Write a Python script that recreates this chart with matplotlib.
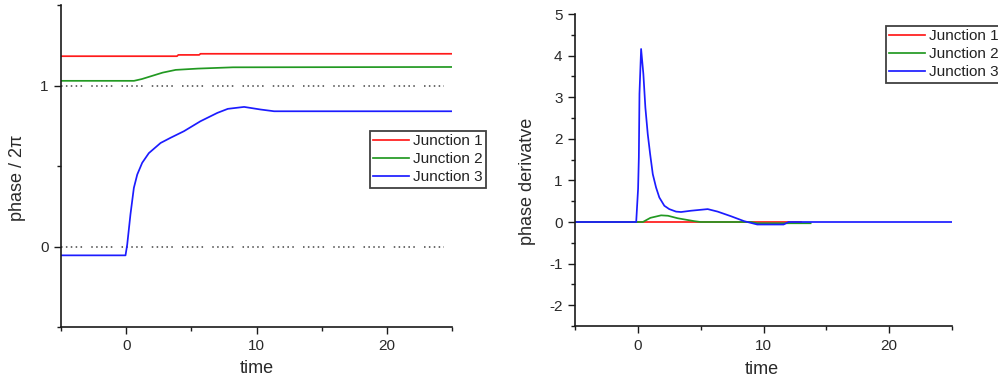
import matplotlib
matplotlib.use("Agg")
import matplotlib.pyplot as plt
from matplotlib.ticker import FixedLocator

plt.rcParams['font.family'] = ['Liberation Sans', 'DejaVu Sans']
plt.rcParams['axes.unicode_minus'] = False

# ---------------- data: left panel (phase / 2pi) ----------------
t_j1 = [-5, 3.9, 4.0, 5.6, 5.7, 25]
p_j1 = [1.182, 1.182, 1.190, 1.190, 1.197, 1.197]

t_j2 = [-5, 0.6, 1.2, 2.0, 2.8, 3.8, 5.5, 8.2, 25]
p_j2 = [1.029, 1.029, 1.040, 1.060, 1.080, 1.097, 1.105, 1.113, 1.115]

t_j3 = [-5, -0.05, 0.08, 0.33, 0.59, 0.85, 1.23, 1.74, 2.64, 3.4, 4.43,
        5.7, 7.0, 7.8, 9.05, 10.3, 11.35, 25]
p_j3 = [-0.055, -0.055, 0.012, 0.20, 0.364, 0.447, 0.52, 0.58, 0.643, 0.675,
        0.716, 0.778, 0.83, 0.855, 0.867, 0.851, 0.84, 0.84]

ref_levels = [0, 1]
ref_span = [-5, 24.4]

# ---------------- data: right panel (phase derivative) ----------------
td_j1 = [-5, 3.97, 4.0, 11.0, 13.0]
d_j1 = [0.0, 0.0, 0.0, 0.0, 0.0]

td_j2 = [-5, 0.4, 1.0, 1.85, 2.4, 3.17, 4.5, 5.0, 9.0, 9.5, 12.5, 13.75]
d_j2 = [0.0, 0.0, 0.10, 0.16, 0.15, 0.09, 0.02, 0.0, 0.0, -0.03, -0.03, -0.03]

td_j3 = [-5, -0.13, 0.02, 0.08, 0.13, 0.26, 0.44, 0.6, 0.79, 0.98, 1.19,
         1.45, 1.71, 2.11, 2.5, 3.04, 3.44, 4.2, 5.56, 6.35, 7.4, 8.46,
         9.5, 11.6, 12.0, 25]
d_j3 = [0.0, 0.0, 0.8, 1.55, 3.08, 4.16, 3.56, 2.75, 2.11, 1.63, 1.15,
        0.83, 0.59, 0.39, 0.31, 0.25, 0.24, 0.27, 0.31, 0.25, 0.14, 0.02,
        -0.06, -0.06, 0.0, 0.0]

labels = ['Junction 1', 'Junction 2', 'Junction 3']
colors = ['#ff1a1a', '#229922', '#1c1cff']

W, H = 998, 384
fig = plt.figure(figsize=(W / 100, H / 100), dpi=100)

def frac(x0, y0, x1, y1):
    return [x0 / W, 1 - y1 / H, (x1 - x0) / W, (y1 - y0) / H]

ax1 = fig.add_axes(frac(61, 5, 452, 327))
ax2 = fig.add_axes(frac(575, 14, 952, 326))

spine_col = '#1a1a1a'
text_col = '#2a2a2a'
LW = 1.25
for ax in (ax1, ax2):
    for s in ('top', 'right'):
        ax.spines[s].set_visible(False)
    for s in ('left', 'bottom'):
        ax.spines[s].set_color(spine_col)
        ax.spines[s].set_linewidth(1.2)
    ax.tick_params(which='major', direction='out', length=5, width=1.0,
                   color=spine_col, labelsize=11, labelcolor=text_col, pad=4)
    ax.tick_params(which='minor', direction='out', length=3, width=1.0,
                   color=spine_col)
    ax.set_xlim(-5, 25)
    ax.xaxis.set_major_locator(FixedLocator([0, 10, 20]))
    ax.xaxis.set_minor_locator(FixedLocator([-5, 5, 15, 25]))

# left panel
for lv in ref_levels:
    ax1.plot(ref_span, [lv, lv], color='#444444', lw=1.1,
             linestyle=(0, (1, 2.2, 1, 2.2, 1, 2.2, 1, 2.2, 1, 6.0)))
ax1.plot(t_j1, p_j1, color=colors[0], lw=LW, label=labels[0])
ax1.plot(t_j2, p_j2, color=colors[1], lw=LW, label=labels[1])
ax1.plot(t_j3, p_j3, color=colors[2], lw=LW, label=labels[2])
ax1.set_ylim(-0.5, 1.5)
ax1.yaxis.set_major_locator(FixedLocator([0, 1]))
ax1.yaxis.set_minor_locator(FixedLocator([-0.5, 0.5, 1.5]))
ax1.set_ylabel('phase / 2π', fontsize=13, color=text_col, va='center')
ax1.yaxis.set_label_coords(-0.112, 0.463)
ax1.set_xlabel('time', fontsize=13, color=text_col, va='center')
ax1.xaxis.set_label_coords(0.5, -0.13)

# right panel
ax2.plot(td_j1, d_j1, color=colors[0], lw=LW, label=labels[0])
ax2.plot(td_j2, d_j2, color=colors[1], lw=LW, label=labels[1])
ax2.plot(td_j3, d_j3, color=colors[2], lw=LW, label=labels[2])
ax2.set_ylim(-2.5, 5)
ax2.yaxis.set_major_locator(FixedLocator([-2, -1, 0, 1, 2, 3, 4, 5]))
ax2.yaxis.set_minor_locator(FixedLocator([-2.5, -1.5, -0.5, 0.5, 1.5, 2.5, 3.5, 4.5]))
ax2.set_ylabel('phase derivatve', fontsize=13, color=text_col, va='center')
ax2.yaxis.set_label_coords(-0.125, 0.465)
ax2.set_xlabel('time', fontsize=13, color=text_col, va='center')
ax2.xaxis.set_label_coords(0.495, -0.138)

leg_kw = dict(loc='upper left', borderaxespad=0, fontsize=11, frameon=True,
              fancybox=False, handlelength=2.3, handletextpad=0.3,
              borderpad=0.22, labelspacing=0.26)
l1 = ax1.legend(bbox_to_anchor=(370 / W, 1 - 131 / H),
                bbox_transform=fig.transFigure, **leg_kw)
l2 = ax2.legend(bbox_to_anchor=(886 / W, 1 - 26 / H),
                bbox_transform=fig.transFigure, **leg_kw)
for lg in (l1, l2):
    fr = lg.get_frame()
    fr.set_edgecolor('#111111')
    fr.set_linewidth(1.3)
    for t in lg.get_texts():
        t.set_color('#222222')
    for h in lg.get_lines():
        h.set_linewidth(LW)

fig.savefig('out.png', dpi=100)
